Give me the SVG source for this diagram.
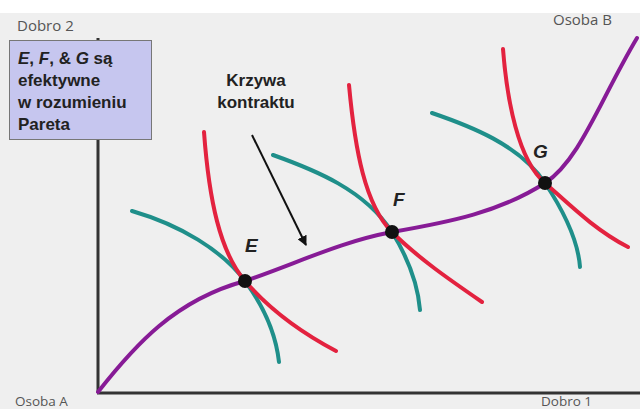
<svg xmlns="http://www.w3.org/2000/svg" width="640" height="409" viewBox="0 0 640 409">
<style>
.lbl{font-family:"Open Sans","Liberation Sans",sans-serif;font-size:15px;fill:#555;}
.lbl2{font-family:"Open Sans","Liberation Sans",sans-serif;font-size:13.5px;fill:#555;}
.bx{font-family:"Liberation Sans",Arial,sans-serif;font-size:17px;font-weight:bold;fill:#222;}
.pt{font-family:"Liberation Sans",Arial,sans-serif;font-size:19px;font-weight:bold;font-style:italic;fill:#222;}
.red{fill:none;stroke:#e3223f;stroke-width:4;stroke-linecap:round;}
.teal{fill:none;stroke:#1f8f8a;stroke-width:4;stroke-linecap:round;}
.purple{fill:none;stroke:#871b96;stroke-width:4;stroke-linecap:round;}
.axis{stroke:#333;stroke-width:3;fill:none;}
.dot{fill:#111;}
</style>
<defs>
<marker id="ah" viewBox="0 0 10 10" refX="9" refY="5" markerWidth="5" markerHeight="5" orient="auto"><path d="M0,0 L10,5 L0,10 z" fill="#111"/></marker>
</defs>
<rect x="0" y="0" width="640" height="409" fill="#efefef"/>
<rect x="0" y="0" width="640" height="13" fill="#ffffff"/>
<g id="axes">
<line class="axis" x1="98" y1="38" x2="98" y2="393"/>
<line class="axis" x1="97" y1="393" x2="640" y2="393"/>
</g>
<text class="lbl" x="17" y="31">Dobro 2</text>
<text class="lbl" x="553" y="25">Osoba B</text>
<text class="lbl2" x="15" y="405.5">Osoba A</text>
<text class="lbl2" x="541" y="405.5">Dobro 1</text>
<g id="info-box">
<rect x="9.5" y="40.5" width="142" height="99" fill="#c6c6ef" stroke="#777" stroke-width="1"/>
<text class="bx" x="18" y="64"><tspan font-style="italic">E</tspan>, <tspan font-style="italic">F</tspan>, &amp; <tspan font-style="italic">G</tspan> są</text>
<text class="bx" x="18" y="86">efektywne</text>
<text class="bx" x="18" y="108">w rozumieniu</text>
<text class="bx" x="18" y="130">Pareta</text>
</g>
<g id="contract-label">
<text class="bx" x="256" y="86" text-anchor="middle" font-size="16">Krzywa</text>
<text class="bx" x="256" y="108" text-anchor="middle" font-size="16">kontraktu</text>
</g>
<g id="connectors">
<line x1="252" y1="135" x2="306" y2="245" stroke="#111" stroke-width="2" marker-end="url(#ah)"/>
</g>
<g id="curves-E">
<path class="teal" d="M132,211 C180,225 222,250 245,281 C265,308 276,335 279,362"/>
<path class="red" d="M204,132 C209,200 220,252 245,281 C270,310 300,332 336,351"/>
</g>
<g id="curves-F">
<path class="teal" d="M273,155 C315,170 365,190 392,232 C408,258 418,285 420,310"/>
<path class="red" d="M349,85 C355,150 365,205 392,232 C418,258 450,280 482,302"/>
</g>
<g id="curves-G">
<path class="teal" d="M432,113 C470,126 520,145 545,183 C563,210 578,240 580,267"/>
<path class="red" d="M503,49 C507,100 518,160 545,183 C570,205 595,230 628,247"/>
</g>
<g id="contract-curve">
<path class="purple" d="M98,392 C135,345 175,300 245,281 C300,262 340,242 392,232 C450,222 500,212 545,183 C580,160 600,100 637,38"/>
</g>
<g id="point-E"><circle class="dot" cx="245" cy="281" r="7"/><text class="pt" x="245" y="252">E</text></g>
<g id="point-F"><circle class="dot" cx="392" cy="232" r="7"/><text class="pt" x="393" y="206">F</text></g>
<g id="point-G"><circle class="dot" cx="545" cy="183" r="7"/><text class="pt" x="533" y="158">G</text></g>
</svg>
